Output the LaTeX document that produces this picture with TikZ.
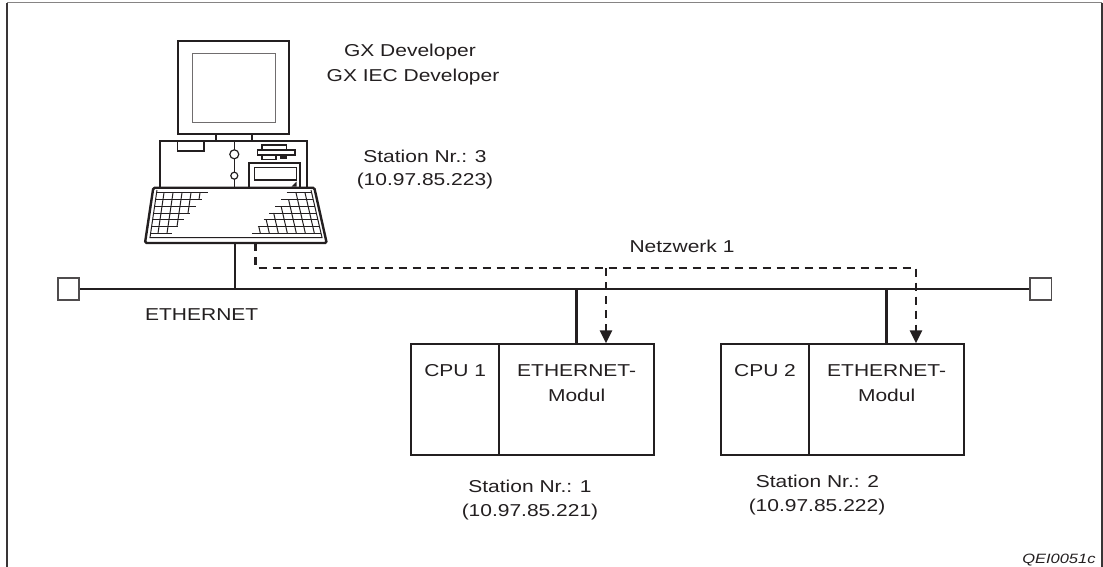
\documentclass[tikz,border=0pt]{standalone}
\usepackage{fontspec}
\setmainfont[FakeStretch=1.22]{Liberation Sans}
\usetikzlibrary{arrows.meta}

\definecolor{ink}{HTML}{231F20}

\begin{document}
\begin{tikzpicture}[x=1pt,y=-1pt,
  lbl/.style={font=\fontsize{17.2}{20}\selectfont, text=ink, inner sep=0pt, anchor=base},
  code/.style={font=\fontsize{13.5}{16}\selectfont\itshape, text=ink, inner sep=0pt, anchor=base east},
  unitbox/.style={draw=ink, line width=2pt, inner sep=0pt, minimum height=110.7pt},
  bus/.style={line width=2.8pt, draw=ink},
  link/.style={line width=2.6pt, draw=ink, dash pattern=on 8.3pt off 5.7pt,
    -{Triangle[width=12pt,length=13pt]}},
  term/.style={draw=ink!80, line width=1.8pt, minimum size=21.5pt, inner sep=0pt, fill=white},
  pcthick/.style={line width=2.2pt, draw=ink},
  pcmid/.style={line width=1.4pt, draw=ink},
  keyline/.style={line width=1pt, draw=ink},
]
\useasboundingbox (0,0) rectangle (1103,567);

% frame (open at the bottom)
\draw[line width=1.8pt, draw=ink!90] (7.3,567) -- (7.3,2.7);
\draw[line width=1.8pt, draw=ink!90] (1101.7,2.7) -- (1101.7,567);
\draw[line width=1.6pt, draw=ink!55] (7.3,2.7) -- (1101.7,2.7);

% ---------- personal computer ----------
% monitor
\draw[pcthick] (177.7,41) rectangle (289,134.3);
\draw[line width=1pt, draw=ink!65] (192.3,53.3) rectangle (275,122.7);
\draw[pcthick] (215.7,134.3) -- (215.7,140.7) (251.7,134.3) -- (251.7,140.7);
% system unit
\draw[pcthick] (160,188) -- (160,140.7) -- (306.7,140.7) -- (306.7,188);
\draw[pcmid] (177.7,140.7) -- (177.7,151) -- (204,151) -- (204,140.7);
\draw[pcmid] (234.3,140.7) -- (234.3,149.8) (234.3,158.8) -- (234.3,172.2) (234.3,179.2) -- (234.3,188);
\draw[line width=1.2pt, draw=ink] (234.3,154.3) circle (4.5);
\draw[line width=1.2pt, draw=ink] (234.3,175.7) circle (3.5);
% floppy drive
\draw[line width=1.2pt, draw=ink] (262,145) rectangle (286.7,150);
\draw[line width=1.2pt, draw=ink] (257.7,150) rectangle (295,155);
\draw[line width=1.2pt, draw=ink] (262,155) rectangle (276,159.5);
\fill[ink] (279.5,155) rectangle (286.7,159.5);
% drive bay
\draw[pcthick] (249.3,188) -- (249.3,163.3) -- (300,163.3) -- (300,188);
\draw[line width=1.2pt, draw=ink] (254.3,167.7) rectangle (296.7,180);
\fill[ink] (296.7,181.5) -- (296.7,186.5) -- (291.7,186.5) -- cycle;
% keyboard
\draw[pcthick, line width=2.4pt, fill=white, rounded corners=1.5pt]
  (153.3,187.7) -- (314.3,187.7) -- (326.7,243) -- (145,243) -- cycle;
\draw[keyline] (157,190) -- (150,237.5) -- (322,237.5) -- (311,190);
\foreach \k in {0,...,6} {
  \draw[keyline] ({156.6-\k},{192.7+6.77*\k}) -- ({208-6*\k},{192.7+6.77*\k});
  \draw[keyline] ({286.7-5.8*\k},{192.7+6.77*\k}) -- ({311.6+1.6*\k},{192.7+6.77*\k});
}
\foreach \x/\e in {164/6,173/6,182/5,191/3,200/1}
  \draw[keyline] (\x,192.7) -- ({\x-\e},{192.7+6.77*\e});
\foreach \x/\s in {305/0,296/0,287/1,278/2,269/3,260/4,251/5}
  \draw[keyline] ({\x+1.56*\s},{192.7+6.77*\s}) -- ({\x+1.56*6},{192.7+6.77*6});

% connection points of the computer
\coordinate (pcA) at (235,243);
\coordinate (pcB) at (255.7,243);

% ---------- bus ----------
\node[term] (tL) at (68.35,289) {};
\node[term] (tR) at (1040.8,289) {};
\draw[bus] (tL.east) -- (tR.west);

% ---------- stations ----------
\node[unitbox, minimum width=87.6pt] (cpu1) at (455.2,399.65) {};
\node[unitbox, minimum width=155.3pt] (mod1) at (576.65,399.65) {};
\node[unitbox, minimum width=88.6pt] (cpu2) at (765,399.65) {};
\node[unitbox, minimum width=154.7pt] (mod2) at (886.65,399.65) {};

\node[lbl] (cpu1t) at (455.2,376) {CPU 1};
\node[lbl] (mod1a) at (576.65,376) {ETHERNET-};
\node[lbl] (mod1b) at (576.65,401) {Modul};
\node[lbl] (cpu2t) at (765,376) {CPU 2};
\node[lbl] (mod2a) at (886.65,376) {ETHERNET-};
\node[lbl] (mod2b) at (886.65,401) {Modul};

% taps onto the bus
\draw[bus] (pcA) -- (pcA |- tL.center);
\draw[bus] (mod1.north) -- (mod1.north |- tL.center);
\draw[bus] (mod2.north) -- (mod2.north |- tL.center);

% logical network path
\coordinate (nw) at (606,268);
\coordinate (ne) at (916,268);
\draw[link] (pcB) |- (ne) -- (ne |- mod2.north);
\draw[link] (nw) -- (nw |- mod1.north);

% ---------- labels ----------
\node[lbl] (sw1) at (410,57) {GX Developer};
\node[lbl] (sw2) at (413,81.5) {GX IEC Developer};
\node[lbl] (st3a) at (425,162.5) {Station Nr.: 3};
\node[lbl] (st3b) at (425,185.5) {(10.97.85.223)};
\node[lbl] (net) at (682,252.3) {Netzwerk 1};
\node[lbl] (eth) at (201.7,320.6) {ETHERNET};
\node[lbl] (st1a) at (530,492.5) {Station Nr.: 1};
\node[lbl] (st1b) at (530,516.7) {(10.97.85.221)};
\node[lbl] (st2a) at (817.5,487.7) {Station Nr.: 2};
\node[lbl] (st2b) at (817,511) {(10.97.85.222)};
\node[code] (ref) at (1095.7,563) {QEI0051c};
\end{tikzpicture}
\end{document}
